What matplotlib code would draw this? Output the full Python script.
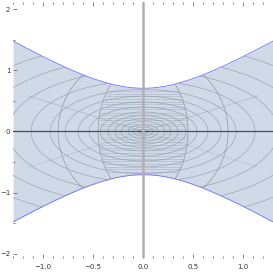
import numpy as np
import matplotlib.pyplot as plt

# region y^2 - x^2 < c, cut at the plot range
c_region = 0.5
x_lo, x_hi = -1.3, 1.3
y_lo, y_hi = -2.07, 2.12

# mesh lines
oval_cross = [0.05, 0.10, 0.15, 0.22, 0.28, 0.35, 0.43, 0.54, 0.65, 0.78, 0.93, 1.12, 1.35, 1.62, 1.95]
oval_aspect = 1.35
seam_cross = [0.45, 0.85]          # ellipses with foci at (0, +-1)
band_tops = [0.04, 0.09, 0.13, 0.18, 0.22, 0.27, 0.31, 0.36, 0.40, 0.45, 0.49, 0.53, 0.58, 0.62, 0.67]
ray_angles = [0.6, -0.6, 2.54, -2.54]

x_ticks = [-1.0, -0.5, 0.0, 0.5, 1.0]
x_labels = ['\u22121.0', '\u22120.5', '0.0', '0.5', '1.0']
y_ticks = [-2, -1, 0, 1, 2]
y_labels = ['\u22122', '\u22121', '0', '1', '2']

fill_col = '#cfd9e8'
edge_col = '#7373f0'
mesh_col = '#8f959e'

fig = plt.figure(figsize=(2.73, 2.73), dpi=100)
ax = fig.add_axes([0.048, 0.055, 0.952, 0.938])

xs = np.linspace(x_lo, x_hi, 600)
top = np.sqrt(c_region + xs**2)
ax.fill_between(xs, -top, top, color=fill_col, lw=0)

X, Y = np.meshgrid(np.linspace(x_lo, x_hi, 500), np.linspace(-1.6, 1.6, 500))
inside = Y**2 - X**2 < c_region

# log-spaced ovals round the origin
R = np.sqrt(X**2 + (oval_aspect * Y)**2)
ax.contour(X, Y, np.where(inside, R, np.nan), levels=oval_cross,
           colors=mesh_col, linewidths=0.5, alpha=0.75)

# the two seams on each side (confocal ellipses)
S = np.sqrt(np.maximum(X**2 + Y**2 - 1 + np.sqrt((X**2 + Y**2 - 1)**2 + 4 * X**2), 0) / 2)
ax.contour(X, Y, np.where(inside, S, np.nan), levels=seam_cross,
           colors=mesh_col, linewidths=0.6, alpha=0.8)

# horizontal lines inside the inner band
band = inside & (S < seam_cross[0])
ax.contour(X, Y, np.where(band, np.abs(Y), np.nan), levels=band_tops,
           colors=mesh_col, linewidths=0.45, alpha=0.5)

# a few rays through the origin
A = np.arctan2(oval_aspect * Y, X)
ax.contour(X, Y, np.where(inside & (R < 1.4), A, np.nan), levels=sorted(ray_angles),
           colors=mesh_col, linewidths=0.5, alpha=0.5)

ax.plot(xs, top, color=edge_col, lw=0.6)
ax.plot(xs, -top, color=edge_col, lw=0.6)

ax.axhline(0, color='#4d4d4d', lw=0.9)
ax.axvline(0, color='#b0b0b0', lw=1.8)

ax.set_xlim(x_lo, x_hi)
ax.set_ylim(y_lo, y_hi)
for s in ax.spines.values():
    s.set_visible(False)

ax.set_xticks(x_ticks)
ax.set_xticklabels(x_labels)
ax.set_xticks(np.arange(-1.3, 1.31, 0.1), minor=True)
ax.set_yticks(y_ticks)
ax.set_yticklabels(y_labels)
ax.set_yticks([-1.5, -0.5, 0.5, 1.5], minor=True)
ax.tick_params(axis='both', which='both', direction='in', color='#555555',
               labelsize=5, labelcolor='#333333', top=True)
ax.tick_params(axis='both', which='major', length=3, width=0.5, pad=2)
ax.tick_params(axis='x', which='major', pad=4)
ax.tick_params(axis='both', which='minor', length=1.5, width=0.5)

fig.savefig('out.png', dpi=100)
